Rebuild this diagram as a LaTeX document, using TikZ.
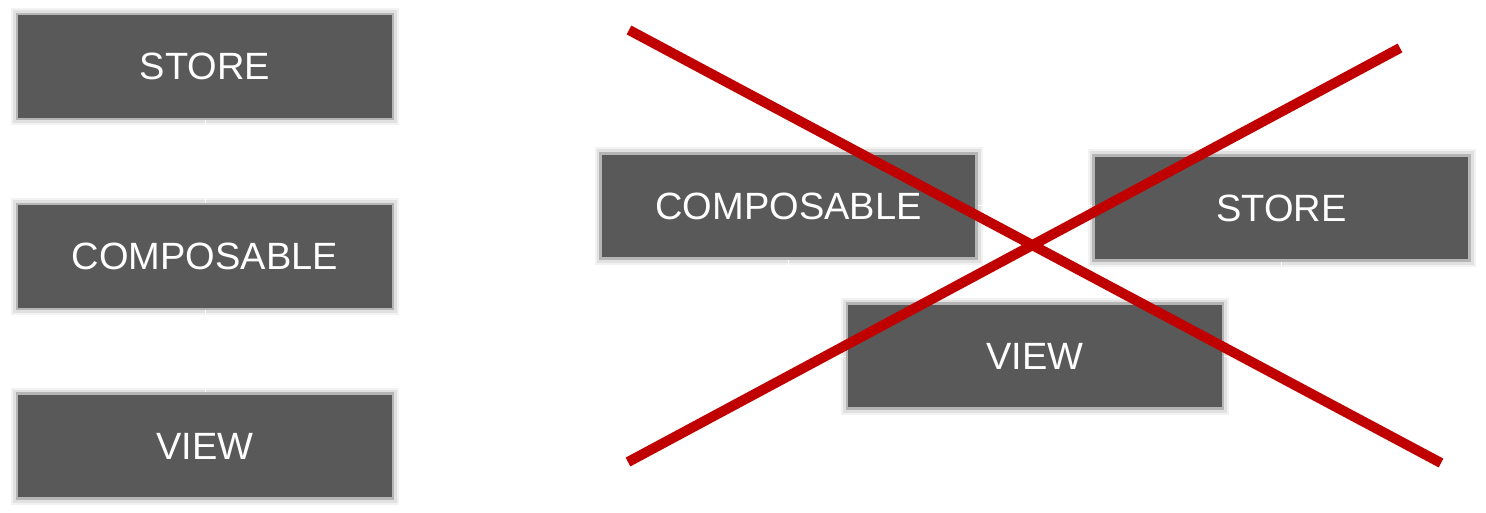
\documentclass[tikz,border=0pt]{standalone}
\usepackage{fontspec}
\setmainfont{Liberation Sans}
\definecolor{boxgray}{HTML}{595959}
\definecolor{rimgray}{HTML}{B5B5B5}
\definecolor{crossred}{HTML}{C00000}
\begin{document}
\begin{tikzpicture}[x=1pt,y=-1pt,
  blk/.style={fill=boxgray, draw=rimgray, line width=2.5pt, minimum width=376pt, minimum height=105pt,
    inner sep=0pt, text=white, font=\fontsize{38}{41}\selectfont,
    preaction={draw=black, draw opacity=0.05, line width=12pt},
    preaction={draw=black, draw opacity=0.07, line width=8pt}},
  wire/.style={draw=white, line width=1pt},
  cross/.style={draw=crossred, line width=10pt}]
\useasboundingbox (0,0) rectangle (1486,513);
% left column
\node[blk] (s1) at (205,66.5) {STORE};
\node[blk] (c1) at (205,256.5) {COMPOSABLE};
\node[blk] (v1) at (205,446) {VIEW};
% right group
\node[blk] (c2) at (788.5,206) {COMPOSABLE};
\node[blk] (s2) at (1281.5,208) {STORE};
\node[blk] (v2) at (1035,356) {VIEW};
% faint white connectors
\draw[wire] (s1.south) -- (c1.north);
\draw[wire] (c1.south) -- (v1.north);
\draw[wire] (c2.east) -- (s2.west |- c2.east);
\draw[wire] (c2.south) |- (v2.west);
\draw[wire] (s2.south) |- (v2.east);
% red cross
\coordinate (a1) at (629,30);
\coordinate (a2) at (1441,463);
\coordinate (b1) at (628,462);
\coordinate (b2) at (1400,48);
\draw[cross] (a1) -- (a2);
\draw[cross] (b1) -- (b2);
\end{tikzpicture}
\end{document}
